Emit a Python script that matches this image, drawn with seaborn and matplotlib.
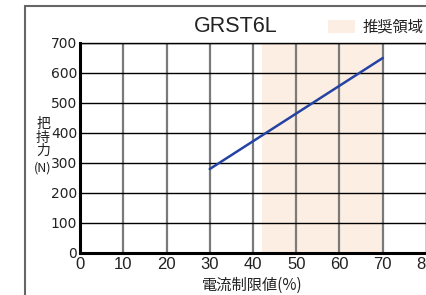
import matplotlib
matplotlib.use("Agg")
import matplotlib.pyplot as plt
import matplotlib.patches as mpatches
import numpy as np
import pandas as pd
import seaborn as sns

# data
current_pct = [30, 70]
grip_force = [280, 650]
recommended = (42, 70)
x_ticks = [0, 10, 20, 30, 40, 50, 60, 70, 80]
y_ticks = [0, 100, 200, 300, 400, 500, 600, 700]

sns.set_style("white")
plt.rcParams['font.family'] = ['Noto Sans CJK JP', 'DejaVu Sans']

df = pd.DataFrame({"current": current_pct, "force": grip_force})

fig = plt.figure(figsize=(4.27, 2.95), dpi=100)
ax = fig.add_axes([80/427, 1-253/295, 346/427, 210/295])

# recommended area
ax.axvspan(recommended[0], recommended[1], color="#fdeee3", lw=0, zorder=0)

# grid
for x in x_ticks[1:-1]:
    ax.axvline(x, color="#7a7a7a", lw=1.6, zorder=1)
for y in y_ticks[1:]:
    ax.axhline(y, color="black", lw=1.0, zorder=1)

sns.lineplot(data=df, x="current", y="force", color="#2443a3", lw=1.8, ax=ax, zorder=3)

ax.set_xlim(0, 80)
ax.set_ylim(0, 700)
ax.set_xticks(x_ticks)
ax.set_yticks(y_ticks)
ax.set_xticklabels([str(v) for v in x_ticks], fontsize=12, family="Liberation Sans", color="#222222")
ax.set_yticklabels([str(v) for v in y_ticks], fontsize=10, family="Liberation Sans Narrow", color="#222222")
ax.tick_params(axis="x", length=0, pad=3)
ax.tick_params(axis="y", length=0, pad=2)
ax.set_xlabel("")
ax.set_ylabel("")
for s in ["left", "bottom"]:
    ax.spines[s].set_linewidth(2.2)
    ax.spines[s].set_color("black")
for s in ["top", "right"]:
    ax.spines[s].set_linewidth(1.0)
    ax.spines[s].set_color("black")

# outer frame
fig.add_artist(mpatches.Rectangle((25/427, -0.1), 1.2, 0.1 + 289/295,
                                  transform=fig.transFigure, fill=False,
                                  ec="#666666", lw=1.5, clip_on=False))

fig.text(236/427, 1-27/295, "GRST6L", ha="center", va="center", fontsize=15.5,
         family="Liberation Sans", color="#222222")

# legend
fig.add_artist(mpatches.Rectangle((328/427, 1-33/295), 27/427, 13/295,
                                  transform=fig.transFigure, color="#fdeee3", lw=0))
fig.text(363/427, 1-27/295, "推奨領域", ha="left", va="center", fontsize=11, color="#222222")

fig.text(252/427, 1-285/295, "電流制限値(%)", ha="center", va="center", fontsize=11, color="#222222")

# stacked y label
for txt, yc, fs in zip(["把", "持", "力", "(N)"], [124, 138, 151, 168], [10, 10, 10, 9]):
    fig.text(43/427, 1-yc/295, txt, ha="center", va="center", fontsize=fs, color="#222222")

fig.savefig("out.png", dpi=100)
